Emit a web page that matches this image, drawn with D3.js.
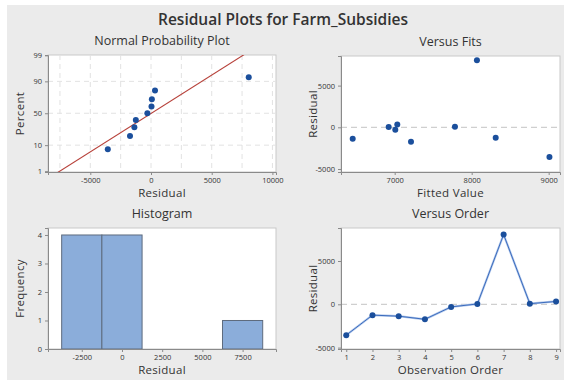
<!DOCTYPE html>
<html>
<head>
<meta charset="utf-8">
<script src="https://cdn.jsdelivr.net/npm/d3@7"></script>
<style>
  body { margin: 0; background: #fff; }
  text { font-family: "Open Sans", "Noto Sans", sans-serif; fill: #333; }
</style>
</head>
<body>
<div id="chart"></div>
<script>
// Residual plots (4 panels) for Farm_Subsidies

const residuals = [-3560, -1250, -1370, -1730, -300, 40, 8050, 70, 330];
const fitted = [9010, 8312, 6455, 7212, 7008, 6922, 8068, 7783, 7034];
const order = [1, 2, 3, 4, 5, 6, 7, 8, 9];
const probPercent = [7.4, 18.1, 28.7, 39.4, 50, 60.6, 71.3, 81.9, 92.6];
const percentTicks = [1, 10, 50, 90, 99];
const histEdges = [-3750, -1250, 1250, 3750, 6250, 8750];
const histCounts = [4, 4, 0, 0, 1];

const width = 564, height = 381;
const dotColor = "#1b4f9c";
const plain = d => String(d);

const svg = d3.select("#chart").append("svg")
    .attr("width", width)
    .attr("height", height);

svg.append("rect").attr("x", 7).attr("y", 5)
    .attr("width", width - 7).attr("height", 375)
    .attr("fill", "#ebebeb");

svg.append("text").attr("x", 283).attr("y", 25)
    .attr("text-anchor", "middle")
    .attr("font-size", "15.5px").attr("font-weight", 600)
    .text("Residual Plots for Farm_Subsidies");

// inverse normal cdf (Acklam)
function qnorm(p) {
    const a = [-39.6968302866538, 220.946098424521, -275.928510446969, 138.357751867269, -30.6647980661472, 2.50662827745924];
    const b = [-54.4760987982241, 161.585836858041, -155.698979859887, 66.8013118877197, -13.2806815528857];
    const c = [-0.00778489400243029, -0.322396458041136, -2.40075827716184, -2.54973253934373, 4.37466414146497, 2.93816398269878];
    const d = [0.00778469570904146, 0.32246712907004, 2.445134137143, 3.75440866190742];
    const pl = 0.02425;
    let q, r;
    if (p < pl) {
        q = Math.sqrt(-2 * Math.log(p));
        return (((((c[0]*q+c[1])*q+c[2])*q+c[3])*q+c[4])*q+c[5]) / ((((d[0]*q+d[1])*q+d[2])*q+d[3])*q+1);
    } else if (p <= 1 - pl) {
        q = p - 0.5; r = q * q;
        return (((((a[0]*r+a[1])*r+a[2])*r+a[3])*r+a[4])*r+a[5])*q / (((((b[0]*r+b[1])*r+b[2])*r+b[3])*r+b[4])*r+1);
    }
    q = Math.sqrt(-2 * Math.log(1 - p));
    return -(((((c[0]*q+c[1])*q+c[2])*q+c[3])*q+c[4])*q+c[5]) / ((((d[0]*q+d[1])*q+d[2])*q+d[3])*q+1);
}

function panel(box, title, xLabel, yLabel) {
    const g = svg.append("g");
    g.append("rect").attr("x", box.x0).attr("y", box.y0)
        .attr("width", box.x1 - box.x0).attr("height", box.y1 - box.y0)
        .attr("fill", "#fff").attr("stroke", "#c9c9c9");
    g.append("text").attr("x", (box.x0 + box.x1) / 2).attr("y", box.y0 - 10)
        .attr("text-anchor", "middle").attr("font-size", "12.5px").attr("font-weight", 500)
        .attr("fill", "#2a2a2a")
        .text(title);
    g.append("text").attr("x", (box.x0 + box.x1) / 2).attr("y", box.y1 + 25)
        .attr("text-anchor", "middle").attr("font-size", "11.5px").attr("font-weight", 500)
        .attr("letter-spacing", "0.3px")
        .text(xLabel);
    g.append("text")
        .attr("transform", `translate(${box.x0 - 24},${(box.y0 + box.y1) / 2}) rotate(-90)`)
        .attr("text-anchor", "middle").attr("font-size", "11.5px").attr("font-weight", 500)
        .attr("letter-spacing", "0.3px")
        .text(yLabel);
    return g;
}

function styleAxis(sel) {
    sel.selectAll("path").attr("stroke", "#8a8a8a");
    sel.selectAll("line").attr("stroke", "#8a8a8a");
    sel.selectAll("text").attr("font-size", "7.5px").attr("fill", "#222")
        .attr("font-family", "'Liberation Sans', sans-serif");
}

function grid(g, box, x, y, xVals, yVals) {
    g.selectAll(null).data(xVals).enter().append("line")
        .attr("x1", d => x(d)).attr("x2", d => x(d))
        .attr("y1", box.y0).attr("y2", box.y1)
        .attr("stroke", "#e2e2e2").attr("stroke-dasharray", "5,4");
    g.selectAll(null).data(yVals).enter().append("line")
        .attr("x1", box.x0).attr("x2", box.x1)
        .attr("y1", d => y(d)).attr("y2", d => y(d))
        .attr("stroke", "#e2e2e2").attr("stroke-dasharray", "5,4");
}

// ---- Normal Probability Plot
const b1 = {x0: 48, x1: 276, y0: 55, y1: 172};
const g1 = panel(b1, "Normal Probability Plot", "Residual", "Percent");
const x1 = d3.scaleLinear().domain([-8485, 10296]).range([b1.x0, b1.x1]);
const z1 = d3.scaleLinear().domain([-2.36, 2.34]).range([b1.y1, b1.y0]);
const y1 = p => z1(qnorm(p / 100));

grid(g1, b1, x1, y1, [-7500, -5000, -2500, 0, 2500, 5000, 7500, 10000], [10, 50, 90]);

const cp = "clipNormal";
svg.append("clipPath").attr("id", cp).append("rect")
    .attr("x", b1.x0).attr("y", b1.y0).attr("width", b1.x1 - b1.x0).attr("height", b1.y1 - b1.y0);
const mu = d3.mean(residuals), sd = d3.deviation(residuals);
const zLine = [-2.6, 2.6];
g1.append("line").attr("clip-path", `url(#${cp})`)
    .attr("x1", x1(mu + sd * zLine[0])).attr("y1", z1(zLine[0]))
    .attr("x2", x1(mu + sd * zLine[1])).attr("y2", z1(zLine[1]))
    .attr("stroke", "#b7413a").attr("stroke-width", 1.1);

const sorted = d3.sort(residuals);
g1.selectAll("circle").data(sorted).enter().append("circle")
    .attr("cx", d => x1(d)).attr("cy", (d, i) => y1(probPercent[i]))
    .attr("r", 3).attr("fill", dotColor);

g1.append("g").attr("transform", `translate(0,${b1.y1})`)
    .call(d3.axisBottom(x1).tickValues([-5000, 0, 5000, 10000]).tickSize(3).tickFormat(plain))
    .call(styleAxis);
g1.append("g").attr("transform", `translate(${b1.x0},0)`)
    .call(d3.axisLeft(z1).tickValues(percentTicks.map(p => qnorm(p / 100)))
        .tickFormat((d, i) => percentTicks[i]).tickSize(3))
    .call(styleAxis);

// ---- Versus Fits
const b2 = {x0: 341, x1: 560, y0: 56, y1: 172};
const g2 = panel(b2, "Versus Fits", "Fitted Value", "Residual");
const x2 = d3.scaleLinear().domain([6303, 9147]).range([b2.x0, b2.x1]);
const y2 = d3.scaleLinear().domain([-5360, 8549]).range([b2.y1, b2.y0]);
g2.append("line").attr("x1", b2.x0).attr("x2", b2.x1)
    .attr("y1", y2(0)).attr("y2", y2(0))
    .attr("stroke", "#cfcfcf").attr("stroke-width", 1.2).attr("stroke-dasharray", "6,4");
g2.selectAll("circle").data(residuals).enter().append("circle")
    .attr("cx", (d, i) => x2(fitted[i])).attr("cy", d => y2(d))
    .attr("r", 3).attr("fill", dotColor);
g2.append("g").attr("transform", `translate(0,${b2.y1})`)
    .call(d3.axisBottom(x2).tickValues([7000, 8000, 9000]).tickSize(3).tickFormat(plain))
    .call(styleAxis);
g2.append("g").attr("transform", `translate(${b2.x0},0)`)
    .call(d3.axisLeft(y2).tickValues([-5000, 0, 5000]).tickSize(3).tickFormat(plain))
    .call(styleAxis);

// ---- Histogram
const b3 = {x0: 48, x1: 276, y0: 228, y1: 349};
const g3 = panel(b3, "Histogram", "Residual", "Frequency");
const x3 = d3.scaleLinear().domain([-4600, 9577]).range([b3.x0, b3.x1]);
const y3 = d3.scaleLinear().domain([0, 4.245]).range([b3.y1, b3.y0]);
const bins = histCounts.map((c, i) => ({count: c, lo: histEdges[i], hi: histEdges[i + 1]}))
    .filter(b => b.count > 0);
g3.selectAll("rect.bar").data(bins).enter().append("rect")
    .attr("class", "bar")
    .attr("x", d => x3(d.lo))
    .attr("y", d => y3(d.count))
    .attr("width", d => x3(d.hi) - x3(d.lo))
    .attr("height", d => y3(0) - y3(d.count))
    .attr("fill", "#8badda").attr("stroke", "#5e6b7e").attr("stroke-width", 1);
g3.append("g").attr("transform", `translate(0,${b3.y1})`)
    .call(d3.axisBottom(x3).tickValues([-2500, 0, 2500, 5000, 7500]).tickSize(3).tickFormat(plain))
    .call(styleAxis);
g3.append("g").attr("transform", `translate(${b3.x0},0)`)
    .call(d3.axisLeft(y3).tickValues([0, 1, 2, 3, 4]).tickSize(3).tickFormat(plain))
    .call(styleAxis);

// ---- Versus Order
const b4 = {x0: 341, x1: 560, y0: 228, y1: 349};
const g4 = panel(b4, "Versus Order", "Observation Order", "Residual");
const x4 = d3.scaleLinear().domain([0.8, 9.15]).range([b4.x0, b4.x1]);
const y4 = d3.scaleLinear().domain([-5160, 8810]).range([b4.y1, b4.y0]);
g4.append("line").attr("x1", b4.x0).attr("x2", b4.x1)
    .attr("y1", y4(0)).attr("y2", y4(0))
    .attr("stroke", "#cfcfcf").attr("stroke-width", 1.2).attr("stroke-dasharray", "6,4");
const line4 = d3.line().x((d, i) => x4(order[i])).y(d => y4(d));
g4.append("path").datum(residuals).attr("d", line4)
    .attr("fill", "none").attr("stroke", "#b3c9ec").attr("stroke-width", 2.2);
g4.append("path").datum(residuals).attr("d", line4)
    .attr("fill", "none").attr("stroke", "#3c6cbd").attr("stroke-width", 1);
g4.selectAll("circle").data(residuals).enter().append("circle")
    .attr("cx", (d, i) => x4(order[i])).attr("cy", d => y4(d))
    .attr("r", 3).attr("fill", dotColor);
g4.append("g").attr("transform", `translate(0,${b4.y1})`)
    .call(d3.axisBottom(x4).tickValues(order).tickSize(3).tickFormat(plain))
    .call(styleAxis);
g4.append("g").attr("transform", `translate(${b4.x0},0)`)
    .call(d3.axisLeft(y4).tickValues([-5000, 0, 5000]).tickSize(3).tickFormat(plain))
    .call(styleAxis);
</script>
</body>
</html>
